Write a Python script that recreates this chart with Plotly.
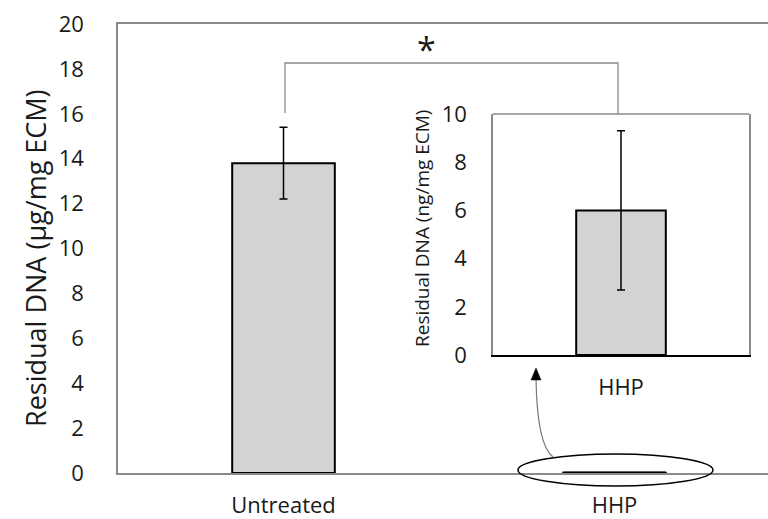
import plotly.graph_objects as go

# ---- data ----
categories = ["Untreated", "HHP"]
dna_ug = [13.8, 0.006]          # µg/mg ECM
dna_ug_err = [1.6, 0.0]
inset_categories = ["HHP"]
dna_ng = [6.0]                  # ng/mg ECM
dna_ng_err = [3.3]
main_ticks = [0, 2, 4, 6, 8, 10, 12, 14, 16, 18, 20]
inset_ticks = [0, 2, 4, 6, 8, 10]

W, H = 768, 519
def px(x): return x / W
def py(y): return 1 - y / H

TXT = "#1a1a1a"
FONT = "Open Sans"
BAR_FILL = "#d3d3d3"
FRAME = "#8a8a8a"
TICK_SIZE = 22

fig = go.Figure()

# Untreated bar
fig.add_trace(go.Bar(
    x=categories[:1], y=dna_ug[:1], width=0.31,
    marker=dict(color=BAR_FILL, line=dict(color="black", width=2)),
    error_y=dict(type="data", array=dna_ug_err[:1], color="black", thickness=1.5, width=4),
    xaxis="x", yaxis="y", showlegend=False, hoverinfo="skip"))
# HHP bar on the µg scale (too small to see: drawn as a flat outline)
fig.add_trace(go.Bar(
    x=categories[1:], y=dna_ug[1:], width=0.31,
    marker=dict(color=BAR_FILL, line=dict(color="black", width=2)),
    error_y=dict(type="data", array=dna_ug_err[1:], color="black", thickness=2.5, width=51),
    xaxis="x", yaxis="y", showlegend=False, hoverinfo="skip"))

fig.add_trace(go.Bar(
    x=inset_categories, y=dna_ng, width=0.35,
    marker=dict(color=BAR_FILL, line=dict(color="black", width=2)),
    error_y=dict(type="data", array=dna_ng_err, color="black", thickness=1.5, width=4),
    xaxis="x2", yaxis="y2", showlegend=False, hoverinfo="skip"))

fig.update_layout(
    width=W, height=H,
    margin=dict(l=0, r=0, t=0, b=0),
    paper_bgcolor="white", plot_bgcolor="rgba(0,0,0,0)",
    font=dict(family=FONT, color=TXT),
    barmode="overlay",
    xaxis=dict(domain=[px(118), 1], range=[-0.5, 1.5 - 12 / 331], automargin=False,
               showline=True, linecolor=FRAME, linewidth=1.5, mirror=True,
               showgrid=False, zeroline=False, ticks="",
               tickfont=dict(size=TICK_SIZE, family=FONT, color=TXT), ticklabelstandoff=12),
    yaxis=dict(domain=[py(473), py(24)], range=[0, 20], tickvals=main_ticks, automargin=False,
               showline=True, linecolor=FRAME, linewidth=1.5, mirror=False,
               showgrid=False, zeroline=False, ticks="",
               tickfont=dict(size=TICK_SIZE, family=FONT, color=TXT), ticklabelstandoff=28),
    xaxis2=dict(domain=[px(493), px(749)], range=[-0.5, 0.5], anchor="y2", automargin=False,
                showline=True, linecolor="black", linewidth=2, mirror=False,
                showgrid=False, zeroline=False, ticks="",
                tickfont=dict(size=TICK_SIZE, family=FONT, color=TXT), ticklabelstandoff=12),
    yaxis2=dict(domain=[py(355), py(114)], range=[0, 10], tickvals=inset_ticks, anchor="x2",
                automargin=False,
                showline=True, linecolor=FRAME, linewidth=1.5, mirror=True,
                showgrid=False, zeroline=False, ticks="",
                tickfont=dict(size=TICK_SIZE, family=FONT, color=TXT), ticklabelstandoff=20),
)

shapes = []
# inset top border
shapes.append(dict(type="line", xref="paper", yref="paper",
                   x0=px(493), x1=px(749), y0=py(114), y1=py(114),
                   line=dict(color=FRAME, width=1.5)))
# significance bracket
br_y, br_left_bottom = 63, 113
shapes.append(dict(type="path", xref="paper", yref="paper",
                   path=f"M {px(285)},{py(br_left_bottom)} L {px(285)},{py(br_y)} "
                        f"L {px(618)},{py(br_y)} L {px(618)},{py(114)}",
                   line=dict(color=FRAME, width=1.3)))
# ellipse around HHP bar
shapes.append(dict(type="circle", xref="paper", yref="paper",
                   x0=px(518), x1=px(713), y0=py(486), y1=py(454),
                   line=dict(color="black", width=1.5)))
# curved connector
shapes.append(dict(type="path", xref="paper", yref="paper",
                   path=f"M {px(553)},{py(457)} Q {px(537)},{py(445)} {px(536)},{py(378)}",
                   line=dict(color="#777777", width=1.2)))
# arrowhead
shapes.append(dict(type="path", xref="paper", yref="paper",
                   path=f"M {px(536)},{py(368)} L {px(531)},{py(380)} L {px(541)},{py(380)} Z",
                   fillcolor="black", line=dict(color="black", width=0.5)))
fig.update_layout(shapes=shapes)

annotations = [
    dict(text="Residual DNA (µg/mg ECM)", xref="paper", yref="paper",
         x=px(35), y=py(258), textangle=-90, showarrow=False,
         font=dict(size=27, family=FONT, color=TXT), xanchor="center", yanchor="middle"),
    dict(text="Residual DNA (ng/mg ECM)", xref="paper", yref="paper",
         x=px(422), y=py(229), textangle=-90, showarrow=False,
         font=dict(size=19, family=FONT, color=TXT), xanchor="center", yanchor="middle"),
    dict(text="*", xref="paper", yref="paper", x=px(426), y=py(49),
         showarrow=False, font=dict(size=34, family=FONT, color=TXT),
         xanchor="center", yanchor="middle"),
]
fig.update_layout(annotations=annotations)

fig.write_html("out.html", config={"displayModeBar": False},
               post_script="document.body.style.margin='0';document.body.style.overflow='hidden';")
